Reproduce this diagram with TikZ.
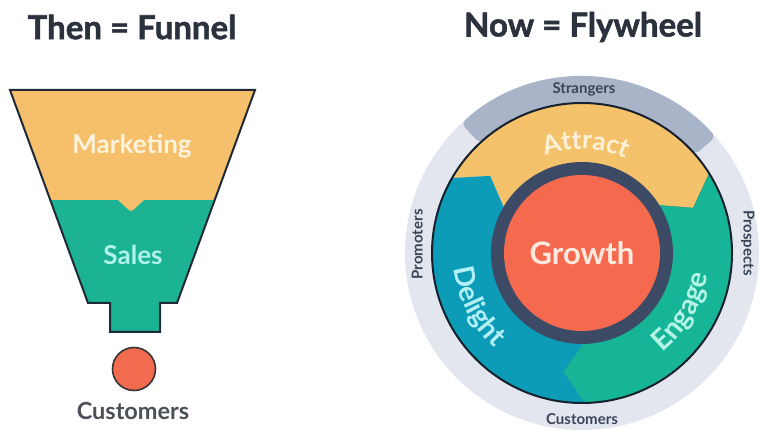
\documentclass[tikz,border=0pt]{standalone}
\usepackage{fontspec}
\setmainfont{Lato}
\newfontfamily\heavyfont{Lato}[BoldFeatures={FakeBold=1.6}]
\usetikzlibrary{decorations.text}
\definecolor{titlec}{HTML}{2B323D}
\definecolor{mktc}{HTML}{F5BF6B}
\definecolor{mkttext}{HTML}{FFF3DC}
\definecolor{salesc}{HTML}{1BB394}
\definecolor{salestext}{HTML}{B0F3E8}
\definecolor{outlinec}{HTML}{1F2A36}
\definecolor{dotc}{HTML}{F26B4E}
\definecolor{dotline}{HTML}{3A3535}
\definecolor{custtext}{HTML}{4A4F58}
\definecolor{ringlight}{HTML}{E3E6EE}
\definecolor{ringdark}{HTML}{A9B4C9}
\definecolor{ringtext}{HTML}{3A4558}
\definecolor{attractc}{HTML}{F5C26C}
\definecolor{attracttext}{HTML}{FFF1D8}
\definecolor{engagec}{HTML}{17B597}
\definecolor{engagetext}{HTML}{B3F4E6}
\definecolor{delightc}{HTML}{0C9CB8}
\definecolor{delighttext}{HTML}{B2EFF6}
\definecolor{navyc}{HTML}{3C4A66}
\definecolor{growthc}{HTML}{F56A4F}
\definecolor{growthtext}{HTML}{FFE9DF}
\definecolor{blackring}{HTML}{16212E}
\newcommand\attractfont{\color{attracttext}\bfseries\fontsize{26}{26}\selectfont}
\newcommand\engagefont{\color{engagetext}\bfseries\fontsize{28.5}{28.5}\selectfont}
\newcommand\delightfont{\color{delighttext}\bfseries\fontsize{28}{28}\selectfont}
\begin{document}
\begin{tikzpicture}[x=1pt,y=1pt,
  titlestyle/.style={font=\heavyfont\bfseries\fontsize{33}{33}\selectfont, text=titlec, inner sep=0pt},
  funnellbl/.style={font=\bfseries\fontsize{26}{26}\selectfont, inner sep=0pt},
  ringlbl/.style={font=\bfseries\fontsize{15}{15}\selectfont, text=ringtext, inner sep=0pt},
  funnelline/.style={draw=outlinec, line width=2pt, line join=miter},
  segment/.style={line width=0.4pt}]
\useasboundingbox (0,0) rectangle (759,430);

% titles
\node[titlestyle] (thenT) at (132,403) {Then = Funnel};
\node[titlestyle] (nowT) at (583,403) {Now = Flywheel};

% funnel
\fill[salesc] (10,340) -- (255,340) -- (177,127) -- (160,127) -- (160,98) -- (110,98) -- (110,127) -- (88,127) -- cycle;
\fill[mktc] (10,340) -- (255,340) -- (214.7,230) -- (144,230) [rounded corners=2pt] -- (131,218) [sharp corners] -- (118,230) -- (50.3,230) -- cycle;
\draw[funnelline] (10,340) -- (255,340) -- (177,127) -- (160,127) -- (160,98) -- (110,98) -- (110,127) -- (88,127) -- cycle;
\node[funnellbl, text=mkttext] (mkt) at (132,284) {Marketing};
\node[funnellbl, text=salestext] (sales) at (133,175) {Sales};
\node[circle, fill=dotc, draw=dotline, line width=1.6pt, minimum size=43pt, inner sep=0pt] (custdot) at (134,61) {};
\node[font=\bfseries\fontsize{23.5}{23.5}\selectfont, text=custtext, inner sep=0pt] (custL) at (133,19) {Customers};

% flywheel
\begin{scope}[shift={(582,177)}]
  \fill[ringlight] (0,0) circle[radius=177pt];
  \fill[ringdark, rounded corners=5pt] (41:150pt) arc[start angle=41, end angle=133, radius=150pt]
     -- (133:177pt) arc[start angle=133, end angle=41, radius=177pt] -- cycle;
  % segments
  \fill[attractc] (150:150pt) arc[start angle=150, end angle=32, radius=150pt]
     -- (22:120pt) -- (32:90pt) arc[start angle=32, end angle=150, radius=90pt] -- (140:120pt) -- cycle;
  \filldraw[engagec, draw=engagec!80!black, segment] (32:150pt) arc[start angle=32, end angle=-89, radius=150pt]
     -- (-99:120pt) -- (-89:90pt) arc[start angle=-89, end angle=32, radius=90pt] -- (22:120pt) -- cycle;
  \fill[delightc] (271:150pt) arc[start angle=271, end angle=150, radius=150pt]
     -- (140:120pt) -- (150:90pt) arc[start angle=150, end angle=271, radius=90pt] -- (261:120pt) -- cycle;
  \draw[blackring, line width=2pt] (0,0) circle[radius=150pt];
  \fill[navyc] (0,0) circle[radius=91pt];
  \fill[growthc] (0,0) circle[radius=78pt];
  \node[font=\bfseries\fontsize{31}{31}\selectfont, text=growthtext, inner sep=0pt] (growth) at (0,0) {Growth};
  % curved labels
  \path[decorate, decoration={text along path, text align=center, text={|\attractfont|Attract}}]
     (130:104pt) arc[start angle=130, end angle=46, radius=104pt];
  \path[decorate, decoration={text along path, text align=center, text={|\engagefont|Engage}}]
     (-75:128pt) arc[start angle=-75, end angle=14, radius=128pt];
  \path[decorate, decoration={text along path, text align=center, text={|\delightfont|Delight}}]
     (162:129pt) arc[start angle=162, end angle=252, radius=129pt];
  % ring labels
  \node[ringlbl] (strangers) at (89.3:164pt) {Strangers};
  \node[ringlbl, rotate=-90] (prospects) at (3.5:166pt) {Prospects};
  \node[ringlbl, rotate=90] (promoters) at (177:165pt) {Promoters};
  \node[ringlbl] (customersR) at (-90:166pt) {Customers};
\end{scope}
\end{tikzpicture}
\end{document}
